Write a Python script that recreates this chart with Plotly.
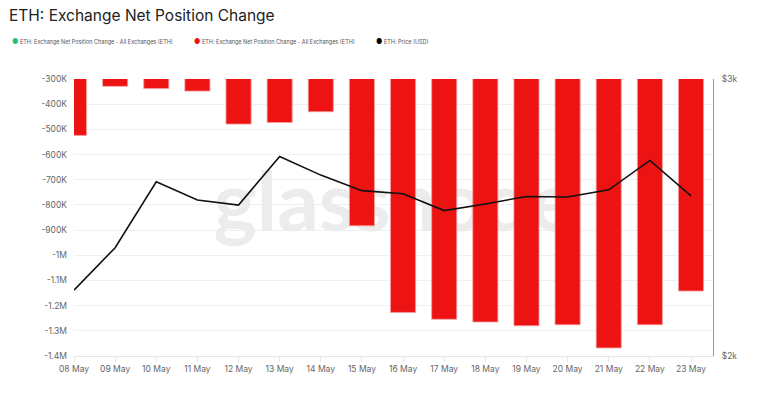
import plotly.graph_objects as go

dates = ["2022-05-08", "2022-05-09", "2022-05-10", "2022-05-11", "2022-05-12", "2022-05-13",
         "2022-05-14", "2022-05-15", "2022-05-16", "2022-05-17", "2022-05-18", "2022-05-19",
         "2022-05-20", "2022-05-21", "2022-05-22", "2022-05-23"]
net_position = [-524000, -329000, -338000, -348000, -479000, -473000,
                -430000, -883000, -1227000, -1254000, -1265000, -1280000,
                -1276000, -1368000, -1276000, -1142000]
price = [2238, 2391, 2629, 2563, 2545, 2720,
         2653, 2597, 2586, 2525, 2549, 2576,
         2574, 2600, 2706, 2578]

y_tickvals = [-300000, -400000, -500000, -600000, -700000, -800000, -900000,
              -1000000, -1100000, -1200000, -1300000, -1400000]
y_ticktext = ["-300K", "-400K", "-500K", "-600K", "-700K", "-800K", "-900K",
              "-1M", "-1.1M", "-1.2M", "-1.3M", "-1.4M"]
price_tickvals = [2000, 3000]
price_ticktext = ["$2k", "$3k"]

legend_labels = ["ETH: Exchange Net Position Change - All Exchanges (ETH)",
                 "ETH: Exchange Net Position Change - All Exchanges (ETH)",
                 "ETH: Price (USD)"]
legend_colors = ["#1fbf7f", "#ee1111", "#000000"]
watermark = "glassnode"

W, H = 763, 398
L, R, T, B = 74, 50, 79, 42
PW, PH = W - L - R, H - T - B


def px(x):
    return (x - L) / PW


def py(y):
    return 1 - (y - T) / PH


fig = go.Figure()
# watermark on a hidden base subplot so it sits beneath the bars
fig.add_trace(go.Scatter(
    x=[px(394)], y=[py(210)], xaxis="x3", yaxis="y3", mode="text", text=[watermark],
    textposition="middle center", hoverinfo="skip", showlegend=False,
    textfont=dict(size=82, color="#ececec", family="Lato, Inter, sans-serif", weight="bold")))
fig.add_trace(go.Bar(
    x=dates, y=net_position, marker=dict(color="#ee1313", line=dict(color="#f4a0a0", width=0.8)),
    width=0.61 * 86400000, showlegend=False, name=legend_labels[1]))
fig.add_trace(go.Scatter(
    x=dates, y=price, yaxis="y2", mode="lines", line=dict(color="#111111", width=1.6),
    showlegend=False, name=legend_labels[2]))

fig.update_layout(
    width=W, height=H,
    margin=dict(l=L, r=R, t=T, b=B),
    paper_bgcolor="white", plot_bgcolor="white",
    font=dict(family="Inter, Roboto, sans-serif", color="#555"),
    xaxis3=dict(range=[0, 1], visible=False, fixedrange=True),
    yaxis3=dict(range=[0, 1], visible=False, fixedrange=True),
    xaxis=dict(type="date", range=["2022-05-08", "2022-05-23 12:50"], overlaying="x3",
               tickmode="array", tickvals=dates,
               ticktext=[d[8:] + " May" for d in dates],
               tickfont=dict(size=8.5, color="#666"),
               showgrid=False, showline=True, linecolor="#e6e6e6",
               ticks="outside", ticklen=5, tickcolor="#e6e6e6"),
    yaxis=dict(range=[-1400000, -300000], tickmode="array", overlaying="y3",
               tickvals=y_tickvals, ticktext=y_ticktext,
               tickfont=dict(size=8.5, color="#666"),
               showgrid=True, gridcolor="#f0f0f0", zeroline=False,
               showline=False, ticks="", ticklabelstandoff=6),
    yaxis2=dict(overlaying="y3", side="right", range=[2000, 3000],
                tickmode="array", tickvals=price_tickvals, ticktext=price_ticktext,
                tickfont=dict(size=8.5, color="#666"),
                showgrid=False, zeroline=False, showline=True, linecolor="#999",
                linewidth=1, ticks="", ticklabelstandoff=6),
    showlegend=False,
)

annotations = [
    dict(text="ETH: Exchange Net Position Change", x=px(7), y=py(15), xref="paper", yref="paper",
         showarrow=False, xanchor="left", yanchor="middle",
         font=dict(size=15.5, color="#222")),
]
leg_x = [10, 192, 374]
for lx, lab, col in zip(leg_x, legend_labels, legend_colors):
    annotations.append(dict(text="●", x=px(lx), y=py(42),
                            xref="paper", yref="paper", showarrow=False,
                            xanchor="left", yanchor="middle",
                            font=dict(size=7, color=col)))
    annotations.append(dict(text=lab, x=px(lx + 8), y=py(42),
                            xref="paper", yref="paper", showarrow=False,
                            xanchor="left", yanchor="middle",
                            font=dict(size=5.5, color="#555")))
fig.update_layout(annotations=annotations)

fig.write_html("out.html", config={"displayModeBar": False},
               post_script="document.body.style.margin='0';")
